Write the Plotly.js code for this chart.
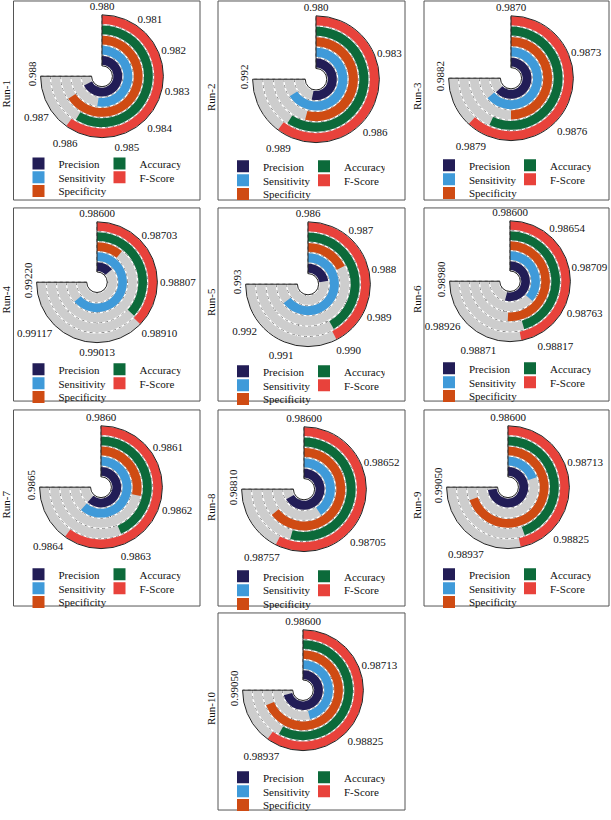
<!DOCTYPE html>
<html><head><meta charset="utf-8">
<script src="https://cdn.plot.ly/plotly-3.0.1.min.js"></script>
<style>html,body{margin:0;padding:0;background:#fff}#chart{width:611px;height:820px}</style>
</head><body><div id="chart"></div>
<script>
// ---------- data ----------
const metrics = ['Precision', 'Sensitivity', 'Specificity', 'Accuracy', 'F-Score'];
const runLabels = ['Run-1','Run-2','Run-3','Run-4','Run-5','Run-6','Run-7','Run-8','Run-9','Run-10'];

const ticksRun1 = ['0.980','0.981','0.982','0.983','0.984','0.985','0.986','0.987','0.988'];
const ticksRun2 = ['0.980','0.983','0.986','0.989','0.992'];
const ticksRun3 = ['0.9870','0.9873','0.9876','0.9879','0.9882'];
const ticksRun4 = ['0.98600','0.98703','0.98807','0.98910','0.99013','0.99117','0.99220'];
const ticksRun5 = ['0.986','0.987','0.988','0.989','0.990','0.991','0.992','0.993'];
const ticksRun6 = ['0.98600','0.98654','0.98709','0.98763','0.98817','0.98871','0.98926','0.98980'];
const ticksRun7 = ['0.9860','0.9861','0.9862','0.9863','0.9864','0.9865'];
const ticksRun8 = ['0.98600','0.98652','0.98705','0.98757','0.98810'];
const ticksRun9 = ['0.98600','0.98713','0.98825','0.98937','0.99050'];
const ticksRun10 = ['0.98600','0.98713','0.98825','0.98937','0.99050'];

// order: Precision, Sensitivity, Specificity, Accuracy, F-Score
const valuesRun1 = [0.98720, 0.98560, 0.98700, 0.98625, 0.98639];
const valuesRun2 = [0.98853, 0.99053, 0.98867, 0.98947, 0.98964];
const valuesRun3 = [0.98801, 0.98802, 0.98780, 0.98791, 0.98799];
const valuesRun4 = [0.98713, 0.99126, 0.98689, 0.98903, 0.98908];
const valuesRun5 = [0.98809, 0.99202, 0.98764, 0.98989, 0.98996];
const valuesRun6 = [0.98874, 0.98785, 0.98858, 0.98830, 0.98838];
const valuesRun7 = [0.98641, 0.98641, 0.98619, 0.98629, 0.98640];
const valuesRun8 = [0.98787, 0.98714, 0.98780, 0.98752, 0.98761];
const valuesRun9 = [0.99037, 0.98718, 0.99019, 0.98868, 0.98880];
const valuesRun10 = [0.99025, 0.98877, 0.99013, 0.98948, 0.98960];

const allTicks = [ticksRun1,ticksRun2,ticksRun3,ticksRun4,ticksRun5,ticksRun6,ticksRun7,ticksRun8,ticksRun9,ticksRun10];
const allValues = [valuesRun1,valuesRun2,valuesRun3,valuesRun4,valuesRun5,valuesRun6,valuesRun7,valuesRun8,valuesRun9,valuesRun10];

// ---------- style / layout geometry ----------
const colors = ['#221d56', '#3f9ad9', '#cf4b13', '#0c6a3a', '#e8423b'];
const trackColor = '#cdcdcd';
const W = 611, H = 820;
const FONT = 'Liberation Serif, Times New Roman, serif';
const colLeft = [13.5, 218, 424], colRight = [200, 405, 609];
const rowTop = [1, 210, 414, 619], rowBot = [202, 405, 612, 818];
const panelCell = [[0,0],[1,0],[2,0],[0,1],[1,1],[2,1],[0,2],[1,2],[2,2],[1,3]];
const centers = [[102,77,62],[316,80,64],[511,79,63],[97,285,61],[308,287,63],[510,284,61],[101,492,62],[304,494,63],[508,492,62],[303,697,61]];
const SWEEP = 270, THICK = 0.86, BASE_OFF = 0.1, OFFSET = -360;
const legendRows = [[0,3],[1,4],[2]]; // metric indices per legend row

const traces = [];
const layout = {
  width: W, height: H, margin: {l:0,r:0,t:0,b:0},
  paper_bgcolor: '#fff', hovermode: false,
  font: {family: FONT, size: 11, color: '#222'},
  shapes: [], annotations: []
};

allTicks.forEach((ticks, k) => {
  const pid = k === 0 ? 'polar' : 'polar' + (k + 1);
  const [cx, cy, R] = centers[k];
  const [ci, ri] = panelCell[k];
  const t0 = parseFloat(ticks[0]), t1 = parseFloat(ticks[ticks.length - 1]);
  const toDeg = v => (v - t0) / (t1 - t0) * SWEEP;
  const ringBase = metrics.map((m, i) => i + BASE_OFF);

  // grey tracks
  traces.push({
    type: 'barpolar', subplot: pid, showlegend: false, hoverinfo: 'skip',
    r: metrics.map(() => THICK), base: ringBase,
    theta: metrics.map(() => OFFSET + SWEEP / 2), width: metrics.map(() => SWEEP),
    marker: {color: trackColor, line: {width: 0}}
  });
  // value arcs, ordered for legend rows
  const order = [0, 3, 1, 4, 2];
  order.forEach(i => {
    const deg = toDeg(allValues[k][i]);
    const row = legendRows.findIndex(rw => rw.includes(i));
    const n = k * 3 + row + 1;
    traces.push({
      type: 'barpolar', subplot: pid, name: metrics[i], hoverinfo: 'skip',
      legend: n === 1 ? 'legend' : 'legend' + n,
      r: [THICK], base: [ringBase[i]], theta: [OFFSET + deg / 2], width: [deg],
      marker: {color: colors[i], line: {width: 0}}
    });
  });

  const tickDeg = ticks.map(t => OFFSET + toDeg(parseFloat(t)));
  layout[pid] = {
    domain: {x: [(cx - R) / W, (cx + R) / W], y: [1 - (cy + R) / H, 1 - (cy - R) / H]},
    sector: [180, 450], hole: 0.17, barmode: 'overlay', bgcolor: 'rgba(0,0,0,0)',
    radialaxis: {range: [0, 5], showticklabels: false, ticks: '', showline: false,
      tickvals: [1.03, 2.03, 3.03, 4.03], showgrid: true, gridcolor: '#8a8a8a', griddash: 'dot', gridwidth: 1},
    angularaxis: {rotation: 90, direction: 'clockwise', thetaunit: 'degrees',
      tickmode: 'array', tickvals: tickDeg, ticktext: ticks.map((t, j) => j === ticks.length - 1 ? '' : t),
      ticks: '', showline: true, linecolor: '#222', linewidth: 1,
      showgrid: true, gridcolor: '#666', griddash: 'dot', gridwidth: 1,
      tickfont: {family: FONT, size: 11, color: '#111'}}
  };

  // panel frame
  layout.shapes.push({type: 'rect', xref: 'paper', yref: 'paper',
    x0: colLeft[ci] / W, x1: colRight[ci] / W, y0: 1 - rowBot[ri] / H, y1: 1 - rowTop[ri] / H,
    line: {color: '#555', width: 1}});
  // run label
  layout.annotations.push({xref: 'paper', yref: 'paper', x: (colLeft[ci] - 7) / W, y: 1 - (cy + 18) / H,
    text: runLabels[k], showarrow: false, textangle: -90, font: {family: FONT, size: 11, color: '#111'},
    xanchor: 'center', yanchor: 'middle'});
  // last tick label (rotated)
  layout.annotations.push({xref: 'paper', yref: 'paper', x: (cx - R - 8) / W, y: 1 - (cy - 2) / H,
    text: ticks[ticks.length - 1], showarrow: false, textangle: -90, font: {family: FONT, size: 11, color: '#111'},
    xanchor: 'center', yanchor: 'middle'});

  // legends
  const rowOff = [88, 102, 116];
  rowOff.forEach((off, row) => {
    const n = k * 3 + row + 1;
    layout[n === 1 ? 'legend' : 'legend' + n] = {
      orientation: 'h', x: (colLeft[ci] + 5) / W, xanchor: 'left',
      y: 1 - (cy + off) / H, yanchor: 'middle',
      bgcolor: 'rgba(0,0,0,0)', borderwidth: 0,
      entrywidth: row === 2 ? 0 : 36, entrywidthmode: 'pixels', itemclick: false, itemdoubleclick: false,
      font: {family: FONT, size: 11, color: '#111'}
    };
  });
});

Plotly.newPlot('chart', traces, layout, {staticPlot: true, displayModeBar: false});
</script>
</body></html>
